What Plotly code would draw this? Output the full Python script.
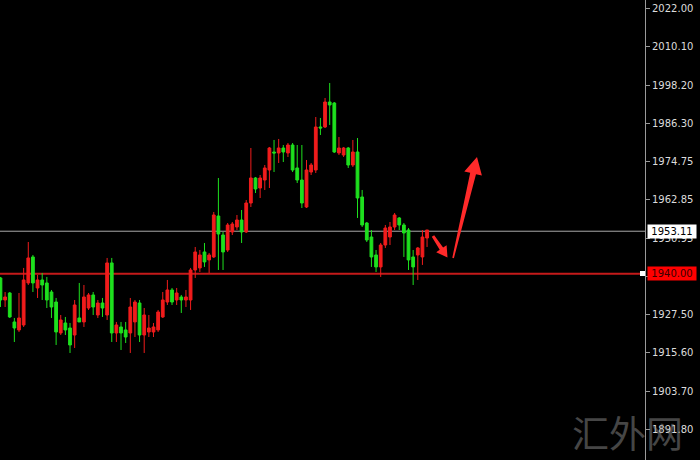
import plotly.graph_objects as go

opens = [
    1938.69, 1931.89, 1934.05, 1925.11, 1922.64, 1924.18, 1937.14, 1945.17, 1935.60, 1938.07,
    1937.14, 1934.36, 1931.27, 1921.71, 1924.80, 1923.25, 1921.09, 1926.34, 1925.11, 1929.42,
    1933.44, 1927.26, 1930.96, 1927.26, 1943.32, 1921.71, 1923.56, 1922.64, 1921.71, 1925.11,
    1930.96, 1921.09, 1922.02, 1922.02, 1922.64, 1926.65, 1931.27, 1934.98, 1931.89, 1932.82,
    1931.89, 1931.89, 1941.15, 1941.78, 1946.71, 1944.25, 1945.17, 1957.81, 1951.95, 1947.32,
    1952.88, 1954.42, 1956.58, 1952.88, 1961.82, 1969.54, 1966.45, 1968.92, 1972.01, 1977.56,
    1977.26, 1978.80, 1977.26, 1979.72, 1972.63, 1968.92, 1960.59, 1971.39, 1972.01, 1985.28,
    1985.28, 1992.99, 1992.68, 1977.26, 1976.64, 1978.80, 1973.55, 1977.56, 1963.68, 1955.65,
    1951.33, 1945.78, 1942.09, 1948.86, 1951.33, 1954.42, 1957.20, 1955.04, 1953.49, 1945.17,
    1945.78, 1945.17, 1951.02]

highs = [
    1939.00, 1934.36, 1934.36, 1926.34, 1934.05, 1941.78, 1949.79, 1945.78, 1939.62, 1940.23,
    1939.00, 1934.98, 1932.51, 1927.26, 1926.65, 1924.80, 1931.89, 1937.14, 1936.52, 1934.05,
    1934.36, 1931.89, 1932.51, 1944.86, 1944.86, 1925.11, 1925.11, 1925.11, 1932.51, 1931.89,
    1931.89, 1929.42, 1927.26, 1924.80, 1928.81, 1934.36, 1938.07, 1935.60, 1935.60, 1933.44,
    1934.98, 1941.78, 1948.25, 1947.32, 1949.48, 1946.40, 1959.05, 1969.54, 1952.88, 1955.65,
    1955.96, 1958.12, 1959.66, 1962.75, 1978.80, 1969.85, 1970.47, 1973.55, 1979.11, 1981.27,
    1981.58, 1979.72, 1980.34, 1980.34, 1979.72, 1979.72, 1975.09, 1974.17, 1988.36, 1988.06,
    1994.23, 1998.86, 1992.99, 1982.19, 1979.11, 1979.11, 1981.27, 1981.88, 1965.84, 1955.96,
    1953.49, 1947.32, 1949.48, 1955.04, 1955.96, 1958.74, 1957.50, 1955.65, 1954.11, 1947.32,
    1948.25, 1953.49, 1953.49]

lows = [
    1929.73, 1929.73, 1926.34, 1918.93, 1922.02, 1923.56, 1936.52, 1934.36, 1932.51, 1931.89,
    1929.42, 1926.34, 1918.01, 1921.09, 1921.09, 1915.54, 1917.08, 1925.11, 1923.56, 1928.81,
    1927.26, 1926.34, 1926.65, 1925.72, 1918.93, 1918.93, 1916.46, 1918.62, 1915.54, 1920.47,
    1918.93, 1915.54, 1920.47, 1920.47, 1922.02, 1926.34, 1930.35, 1930.35, 1930.35, 1927.88,
    1929.73, 1928.81, 1938.69, 1940.53, 1942.09, 1940.23, 1944.86, 1941.15, 1941.15, 1946.71,
    1951.95, 1953.49, 1949.48, 1952.57, 1960.59, 1964.91, 1963.37, 1965.84, 1966.45, 1971.39,
    1974.17, 1974.48, 1976.02, 1971.39, 1967.99, 1960.28, 1960.28, 1970.47, 1971.08, 1982.81,
    1984.97, 1985.90, 1977.26, 1976.64, 1976.02, 1972.63, 1972.94, 1957.20, 1954.42, 1949.79,
    1942.09, 1940.53, 1939.00, 1947.94, 1948.86, 1953.49, 1953.49, 1945.17, 1941.15, 1936.52,
    1938.07, 1942.71, 1948.25]

closes = [
    1931.89, 1932.82, 1926.65, 1923.25, 1926.34, 1938.07, 1944.86, 1937.14, 1938.07, 1936.52,
    1931.89, 1929.73, 1922.02, 1925.72, 1922.64, 1918.01, 1930.35, 1925.11, 1932.82, 1933.44,
    1929.73, 1930.96, 1929.42, 1943.32, 1921.71, 1924.18, 1921.71, 1920.47, 1929.73, 1931.27,
    1921.09, 1927.26, 1923.25, 1923.56, 1928.19, 1931.89, 1934.98, 1931.27, 1934.05, 1931.89,
    1932.82, 1941.15, 1946.71, 1945.78, 1943.63, 1945.78, 1958.12, 1952.26, 1946.71, 1955.04,
    1955.34, 1956.58, 1952.88, 1961.82, 1969.54, 1966.15, 1969.54, 1972.63, 1978.80, 1977.26,
    1978.80, 1977.56, 1979.72, 1972.01, 1968.92, 1961.82, 1972.01, 1973.55, 1985.28, 1984.97,
    1992.99, 1992.07, 1977.56, 1978.80, 1978.80, 1973.55, 1977.56, 1963.37, 1955.04, 1950.41,
    1945.17, 1942.09, 1948.86, 1954.11, 1954.42, 1958.12, 1955.04, 1952.57, 1944.25, 1942.09,
    1947.94, 1951.33, 1953.49]

bars = list(range(len(opens)))

tick_values = [2022.00, 2010.10, 1998.20, 1986.30, 1974.75, 1962.85, 1950.95,
               1939.05, 1927.50, 1915.60, 1903.70, 1891.80]
tick_labels = ["%.2f" % v for v in tick_values]

level_current = 1953.11
level_support = 1940.00
watermark = "汇外网"

UP = "#f01c1c"
DOWN = "#1ee01e"

fig = go.Figure()
fig.add_trace(go.Candlestick(
    x=bars, open=opens, high=highs, low=lows, close=closes,
    increasing=dict(line=dict(color=UP, width=1), fillcolor=UP),
    decreasing=dict(line=dict(color=DOWN, width=1), fillcolor=DOWN),
    hoverinfo="skip", showlegend=False,
))

PLOT_W, PLOT_H = 645.0, 460.0


def px(x, y):
    return x / PLOT_W, 1 - y / PLOT_H


def path_from(points):
    pts = [px(x, y) for x, y in points]
    return "M " + " L ".join("%.5f,%.5f" % p for p in pts) + " Z"


shapes = [
    dict(type="line", xref="paper", yref="y", x0=0, x1=1, y0=level_current, y1=level_current,
         line=dict(color="#a8a8a8", width=1), layer="below"),
    dict(type="line", xref="paper", yref="y", x0=0, x1=px(641, 0)[0], y0=level_support, y1=level_support,
         line=dict(color="#c41a1a", width=2), layer="below"),
    # small arrow
    dict(type="path", xref="paper", yref="paper",
         path=path_from([(434.2, 235.2), (443.1, 247.6), (446.6, 245.2), (447.5, 257.5),
                         (436.2, 252.2), (439.7, 249.8), (431.8, 236.8)]),
         fillcolor="#ff2a2a", line=dict(width=0)),
    # big arrow
    dict(type="path", xref="paper", yref="paper",
         path=path_from([(452.3, 257.8), (470.2, 172.8), (464.3, 171.4), (477.0, 157.0),
                         (481.9, 175.6), (476.0, 174.2), (453.9, 258.2)]),
         fillcolor="#ff2a2a", line=dict(width=0)),
]
# small white marker at end of support line
sx0, sy0 = px(640, 271)
sx1, sy1 = px(645, 276)
shapes.append(dict(type="rect", xref="paper", yref="paper", x0=sx0, x1=sx1, y0=sy1, y1=sy0,
                   fillcolor="#ffffff", line=dict(width=0)))

annotations = [
    dict(xref="paper", yref="paper", x=px(627, 0)[0], y=px(0, 432)[1], xanchor="center",
         yanchor="middle", text=watermark, showarrow=False,
         font=dict(family="Noto Sans CJK SC", size=37, color="rgba(140,140,140,0.5)")),
    dict(xref="paper", yref="y", x=1, y=level_current, xanchor="left", yanchor="middle",
         xshift=2, text="%.2f" % level_current, showarrow=False,
         font=dict(family="DejaVu Sans", size=10, color="#000000"),
         bgcolor="#ffffff", borderpad=1, width=46),
    dict(xref="paper", yref="y", x=1, y=level_support, xanchor="left", yanchor="middle",
         xshift=2, text="%.2f" % level_support, showarrow=False,
         font=dict(family="DejaVu Sans", size=10, color="#3a0000"),
         bgcolor="#ff0000", borderpad=1, width=46),
]

fig.update_layout(
    width=700, height=460,
    margin=dict(l=0, r=55, t=0, b=0),
    paper_bgcolor="#000000", plot_bgcolor="#000000",
    boxgap=0.15, boxgroupgap=0.3,
    shapes=shapes, annotations=annotations,
    xaxis=dict(visible=False, range=[-0.1, 139], rangeslider=dict(visible=False),
               showgrid=False, zeroline=False, fixedrange=True),
    yaxis=dict(side="right", range=[1882.51, 2024.47], tickvals=tick_values, ticktext=tick_labels,
               showgrid=False, zeroline=False, showline=True, linecolor="#9a9a9a", linewidth=1,
               ticks="outside", ticklen=4, tickcolor="#9a9a9a",
               tickfont=dict(family="DejaVu Sans", size=10, color="#dcdcdc"), fixedrange=True),
)

fig.write_html("out.html", config={"displayModeBar": False},
               post_script="document.body.style.margin='0';document.body.style.background='#000';")
